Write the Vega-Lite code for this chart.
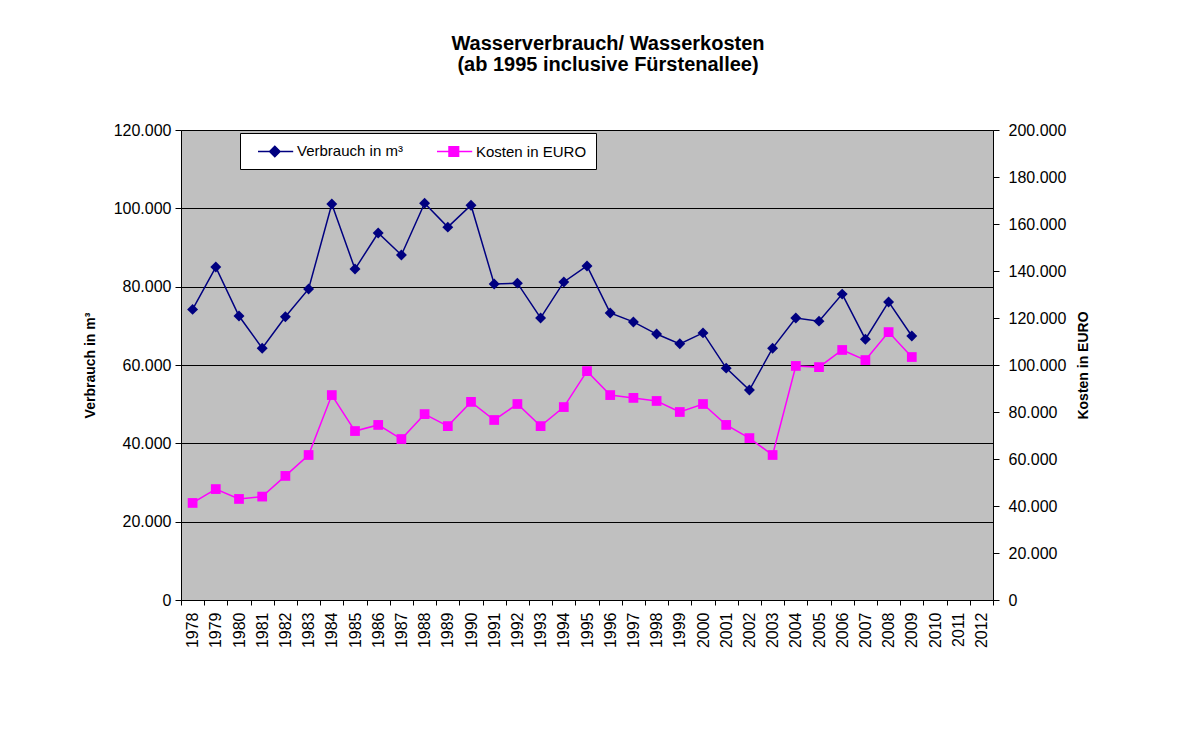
{
  "$schema": "https://vega.github.io/schema/vega-lite/v6.json",
  "width": 812,
  "height": 470,
  "autosize": {"type": "none"},
  "padding": {"left": 181, "top": 130, "right": 202, "bottom": 140},
  "background": "white",
  "config": {
    "locale": {"number": {"decimal": ",", "thousands": ".", "grouping": [3], "currency": ["", " €"]}},
    "font": "Liberation Sans",
    "view": {"fill": "#C0C0C0", "stroke": "#808080", "strokeWidth": 1},
    "axis": {
      "domainColor": "black", "tickColor": "black", "labelColor": "black", "titleColor": "black",
      "labelFont": "Liberation Sans", "titleFont": "Liberation Sans",
      "labelFontSize": 16, "titleFontSize": 14, "titleFontWeight": "bold",
      "domainWidth": 1, "tickWidth": 1
    }
  },
  "title": {
    "text": "Wasserverbrauch/ Wasserkosten",
    "subtitle": "(ab 1995 inclusive Fürstenallee)",
    "anchor": "middle",
    "frame": "group",
    "dx": 21,
    "font": "Liberation Sans",
    "fontSize": 20,
    "fontWeight": "bold",
    "color": "black",
    "subtitleFont": "Liberation Sans",
    "subtitleFontSize": 20,
    "subtitleFontWeight": "bold",
    "subtitleColor": "black",
    "subtitlePadding": 1,
    "offset": 47
  },
  "data": {
    "values": [
      {"year": "1978", "verbrauch": 74200, "kosten": 41300},
      {"year": "1979", "verbrauch": 85000, "kosten": 47200},
      {"year": "1980", "verbrauch": 72500, "kosten": 43000},
      {"year": "1981", "verbrauch": 64300, "kosten": 44000},
      {"year": "1982", "verbrauch": 72300, "kosten": 52800},
      {"year": "1983", "verbrauch": 79400, "kosten": 61700},
      {"year": "1984", "verbrauch": 101100, "kosten": 87200},
      {"year": "1985", "verbrauch": 84500, "kosten": 71900},
      {"year": "1986", "verbrauch": 93700, "kosten": 74500},
      {"year": "1987", "verbrauch": 88100, "kosten": 68500},
      {"year": "1988", "verbrauch": 101300, "kosten": 79100},
      {"year": "1989", "verbrauch": 95200, "kosten": 74000},
      {"year": "1990", "verbrauch": 100800, "kosten": 84300},
      {"year": "1991", "verbrauch": 80700, "kosten": 76600},
      {"year": "1992", "verbrauch": 80900, "kosten": 83400},
      {"year": "1993", "verbrauch": 72000, "kosten": 74000},
      {"year": "1994", "verbrauch": 81200, "kosten": 82100},
      {"year": "1995", "verbrauch": 85300, "kosten": 97400},
      {"year": "1996", "verbrauch": 73300, "kosten": 87200},
      {"year": "1997", "verbrauch": 71000, "kosten": 86000},
      {"year": "1998", "verbrauch": 67900, "kosten": 84700},
      {"year": "1999", "verbrauch": 65400, "kosten": 80000},
      {"year": "2000", "verbrauch": 68200, "kosten": 83400},
      {"year": "2001", "verbrauch": 59200, "kosten": 74500},
      {"year": "2002", "verbrauch": 53600, "kosten": 68900},
      {"year": "2003", "verbrauch": 64300, "kosten": 61700},
      {"year": "2004", "verbrauch": 72000, "kosten": 99600},
      {"year": "2005", "verbrauch": 71200, "kosten": 99100},
      {"year": "2006", "verbrauch": 78100, "kosten": 106400},
      {"year": "2007", "verbrauch": 66600, "kosten": 102100},
      {"year": "2008", "verbrauch": 76100, "kosten": 114000},
      {"year": "2009", "verbrauch": 67400, "kosten": 103400}
    ]
  },
  "encoding": {
    "x": {
      "field": "year",
      "type": "ordinal",
      "scale": {
        "type": "band",
        "paddingInner": 0,
        "paddingOuter": 0,
        "domain": ["1978","1979","1980","1981","1982","1983","1984","1985","1986","1987","1988","1989","1990","1991","1992","1993","1994","1995","1996","1997","1998","1999","2000","2001","2002","2003","2004","2005","2006","2007","2008","2009","2010","2011","2012"]
      },
      "axis": {
        "title": null,
        "labelAngle": 270,
        "labelAlign": "right",
        "labelBaseline": "middle",
        "tickBand": "extent",
        "tickSize": 5,
        "labelPadding": 7,
        "grid": false
      }
    }
  },
  "layer": [
    {
      "mark": {"type": "line", "strokeWidth": 1.5, "point": {"shape": "diamond", "filled": true, "size": 120, "opacity": 1}},
      "encoding": {
        "y": {
          "field": "verbrauch",
          "type": "quantitative",
          "scale": {"domain": [0, 120000], "nice": false, "zero": true},
          "axis": {
            "title": "Verbrauch in m³",
            "values": [0, 20000, 40000, 60000, 80000, 100000, 120000],
            "format": ",d",
            "grid": true,
            "gridColor": "black",
            "gridWidth": 1,
            "gridOpacity": 1,
            "tickSize": 6,
            "labelPadding": 4,
            "titlePadding": 16
          }
        },
        "color": {
          "datum": "Verbrauch in m³",
          "type": "nominal",
          "scale": {"domain": ["Verbrauch in m³", "Kosten in EURO"], "range": ["#000080", "#FF00FF"]},
          "legend": {
            "title": null,
            "orient": "none",
            "legendX": 59,
            "legendY": 3,
            "direction": "horizontal",
            "fillColor": "white",
            "strokeColor": "black",
            "padding": 9,
            "labelFont": "Liberation Sans",
            "labelFontSize": 15,
            "labelColor": "black",
            "symbolSize": 256,
            "labelOffset": 30,
            "columnPadding": 25,
            "symbolStrokeWidth": 1.5,
            "encode": {
              "symbols": {
                "update": {
                  "shape": {"signal": "datum.value === 'Verbrauch in m³' ? 'M0,0H4.4M2.1,-0.65L2.75,0L2.1,0.65L1.45,0Z' : 'M0,0H4.4M1.5,-0.6H2.7V0.6H1.5Z'"},
                  "fill": {"signal": "datum.value === 'Verbrauch in m³' ? '#000080' : '#FF00FF'"},
                  "stroke": {"signal": "datum.value === 'Verbrauch in m³' ? '#000080' : '#FF00FF'"},
                  "strokeWidth": {"value": 1.5},
                  "opacity": {"value": 1}
                }
              }
            }
          }
        }
      }
    },
    {
      "mark": {"type": "line", "strokeWidth": 1.5, "point": {"shape": "square", "filled": true, "size": 95, "opacity": 1}},
      "encoding": {
        "y": {
          "field": "kosten",
          "type": "quantitative",
          "scale": {"domain": [0, 200000], "nice": false, "zero": true},
          "axis": {
            "title": "Kosten in EURO",
            "orient": "right",
            "values": [0, 20000, 40000, 60000, 80000, 100000, 120000, 140000, 160000, 180000, 200000],
            "format": ",d",
            "grid": false,
            "tickSize": 6,
            "labelPadding": 9,
            "titleAngle": 270,
            "titlePadding": 25
          }
        },
        "color": {"datum": "Kosten in EURO", "type": "nominal"}
      }
    }
  ],
  "resolve": {"scale": {"y": "independent"}}
}
